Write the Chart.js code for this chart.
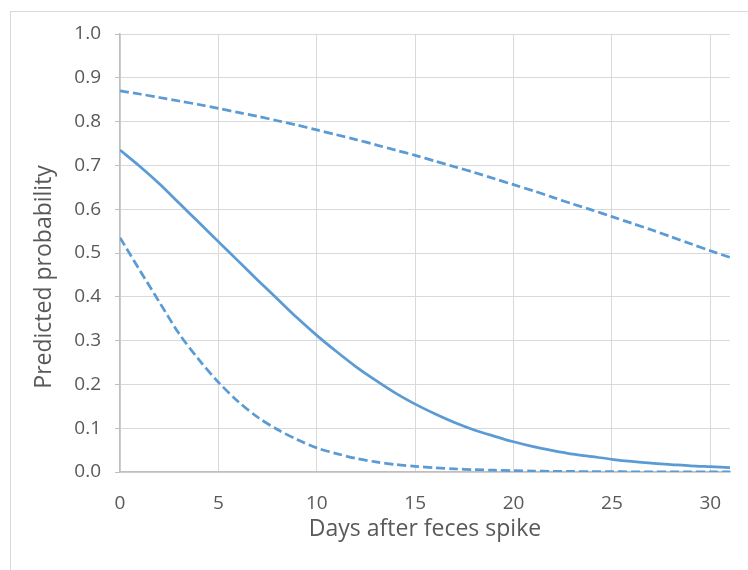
<!DOCTYPE html>
<html>
<head>
<meta charset="utf-8">
<script src="https://cdn.jsdelivr.net/npm/chart.js@4/dist/chart.umd.min.js"></script>
<style>
  html, body { margin: 0; padding: 0; background: #fff; overflow: hidden; }
  #wrap { width: 748px; height: 570px; }
</style>
</head>
<body>
<div id="wrap"><canvas id="grafica" width="748" height="570"></canvas></div>
<script>
const days = [0, 1, 2, 3, 4, 5, 6, 7, 8, 9, 10, 11, 12, 13, 14, 15, 16, 17, 18, 19, 20, 21, 22, 23, 24, 25, 26, 27, 28, 29, 30, 31]

// solid line (estimate)
const predicted = [0.735, 0.698, 0.658, 0.614, 0.570, 0.526, 0.482, 0.438, 0.395, 0.352, 0.312, 0.275, 0.240, 0.209, 0.180, 0.155,
  0.133, 0.113, 0.096, 0.082, 0.069, 0.058, 0.049, 0.041, 0.035, 0.029, 0.024, 0.020, 0.017, 0.014, 0.012, 0.010]

// dashed upper / lower bounds
const upper = [0.870, 0.863, 0.855, 0.847, 0.839, 0.830, 0.821, 0.812, 0.802, 0.792, 0.781, 0.770, 0.759, 0.747, 0.735, 0.723,
  0.710, 0.697, 0.684, 0.670, 0.656, 0.642, 0.627, 0.612, 0.598, 0.583, 0.568, 0.553, 0.537, 0.521, 0.505, 0.490]

const lower = [0.535, 0.461, 0.388, 0.316, 0.257, 0.205, 0.161, 0.125, 0.097, 0.074, 0.055, 0.042, 0.031, 0.023, 0.017, 0.013,
  0.0097, 0.0072, 0.0054, 0.0040, 0.0030, 0.0022, 0.0016, 0.0012, 0.0009, 0.0007, 0.0005, 0.0004, 0.0003, 0.0002, 0.0002, 0.0001]

const yTicks = [0, 0.1, 0.2, 0.3, 0.4, 0.5, 0.6, 0.7, 0.8, 0.9, 1.0]

const blue = '#5b9bd5'
const textGray = '#595959'
const fontName = "'Open Sans', sans-serif"

const toPoints = (vals) => days.map((d, i) => ({ x: d, y: vals[i] }))

// light frame around the whole chart
const frame = {
    id: 'frame',
    beforeDraw(chart) {
        const ctx = chart.ctx
        ctx.save()
        ctx.strokeStyle = '#d9d9d9'
        ctx.lineWidth = 1
        ctx.strokeRect(10.5, 11.5, 800, 620)
        ctx.restore()
    }
}

const graph = document.querySelector('#grafica')

const data = {
    datasets: [{
        label: 'Upper',
        data: toPoints(upper),
        borderColor: blue,
        borderWidth: 2.75,
        borderDash: [9, 4],
        pointRadius: 0,
        tension: 0.3
    },
    {
        label: 'Predicted',
        data: toPoints(predicted),
        borderColor: blue,
        borderWidth: 2.75,
        pointRadius: 0,
        tension: 0.3
    },
    {
        label: 'Lower',
        data: toPoints(lower),
        borderColor: blue,
        borderWidth: 2.75,
        borderDash: [9, 4],
        pointRadius: 0,
        tension: 0.3
    }
    ]
}

const config = {
    type: 'line',
    data: data,
    plugins: [frame],
    options: {
        responsive: false,
        animation: false,
        layout: { padding: { top: 34, right: 18, bottom: 27, left: 31 } },
        plugins: { legend: { display: false }, tooltip: { enabled: false } },
        scales: {
            x: {
                type: 'linear',
                min: 0,
                max: 31,
                afterFit: (s) => { s.height = 71 },
                ticks: { stepSize: 5, includeBounds: false, padding: 20, color: textGray, font: { family: fontName, size: 19 } },
                grid: { color: '#d9d9d9', drawTicks: false },
                border: { color: '#bfbfbf', width: 1.5 },
                title: { display: true, text: 'Days after feces spike', color: textGray, padding: 0, font: { family: fontName, size: 23 } }
            },
            y: {
                min: 0,
                max: 1,
                afterFit: (s) => { s.width = 89 },
                afterBuildTicks: (s) => { s.ticks = yTicks.map(v => ({ value: v })) },
                ticks: { padding: 14, color: textGray, font: { family: fontName, size: 19 }, callback: (v) => Number(v).toFixed(1) },
                grid: { color: '#d9d9d9', tickLength: 5, tickColor: '#bfbfbf' },
                border: { color: '#bfbfbf', width: 1.5 },
                title: { display: true, text: 'Predicted probability        ', color: textGray, padding: 0, font: { family: fontName, size: 23 } }
            }
        }
    }
}

new Chart(graph, config)
</script>
</body>
</html>
